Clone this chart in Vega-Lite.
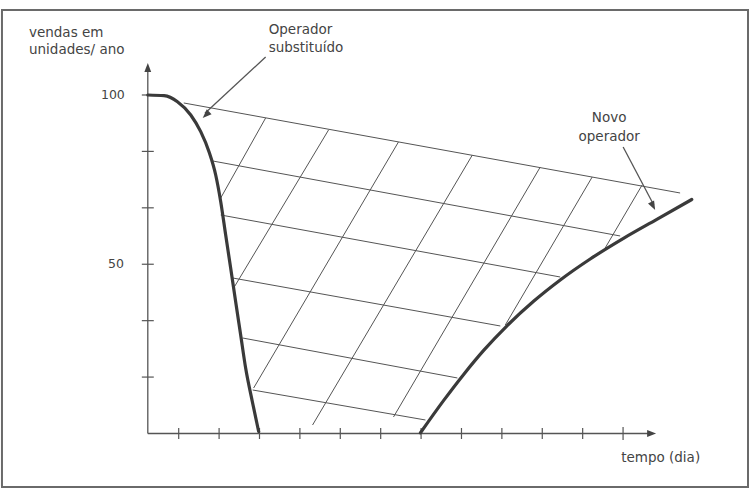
{
  "$schema": "https://vega.github.io/schema/vega-lite/v6.json",
  "width": 755,
  "height": 489,
  "autosize": {"type": "fit", "contains": "padding"},
  "padding": 0,
  "background": "white",
  "config": {"view": {"stroke": null}},
  "datasets": {
    "frame": [{"x": -3.375, "y": 125.11, "x2": 15.093, "y2": -15.81}],
    "curves": [
      {"serie": "Operador substituído", "k": 1, "x": 0.235, "y": 100},
      {"serie": "Operador substituído", "k": 2, "x": 0.638, "y": 99.79},
      {"serie": "Operador substituído", "k": 3, "x": 0.969, "y": 98.02},
      {"serie": "Operador substituído", "k": 4, "x": 1.298, "y": 94.09},
      {"serie": "Operador substituído", "k": 5, "x": 1.545, "y": 89.16},
      {"serie": "Operador substituído", "k": 6, "x": 1.75, "y": 83.25},
      {"serie": "Operador substituído", "k": 7, "x": 1.916, "y": 76.37},
      {"serie": "Operador substituído", "k": 8, "x": 2.04, "y": 68.48},
      {"serie": "Operador substituído", "k": 9, "x": 2.163, "y": 58.64},
      {"serie": "Operador substituído", "k": 10, "x": 2.287, "y": 48.8},
      {"serie": "Operador substituído", "k": 11, "x": 2.41, "y": 38.94},
      {"serie": "Operador substituído", "k": 12, "x": 2.534, "y": 29.1},
      {"serie": "Operador substituído", "k": 13, "x": 2.658, "y": 19.26},
      {"serie": "Operador substituído", "k": 14, "x": 2.823, "y": 9.39},
      {"serie": "Operador substituído", "k": 15, "x": 2.979, "y": 0.6},
      {"serie": "Novo operador", "k": 1, "x": 6.984, "y": 0.2},
      {"serie": "Novo operador", "k": 2, "x": 7.56, "y": 9.78},
      {"serie": "Novo operador", "k": 3, "x": 8.054, "y": 17.46},
      {"serie": "Novo operador", "k": 4, "x": 8.549, "y": 24.55},
      {"serie": "Novo operador", "k": 5, "x": 9.127, "y": 31.82},
      {"serie": "Novo operador", "k": 6, "x": 9.785, "y": 39.05},
      {"serie": "Novo operador", "k": 7, "x": 10.445, "y": 45.35},
      {"serie": "Novo operador", "k": 8, "x": 11.187, "y": 51.55},
      {"serie": "Novo operador", "k": 9, "x": 12.01, "y": 57.64},
      {"serie": "Novo operador", "k": 10, "x": 12.836, "y": 63.25},
      {"serie": "Novo operador", "k": 11, "x": 13.701, "y": 69.13}
    ],
    "grid": [
      {"id": "H1", "x": 1.125, "y": 97.64, "x2": 13.412, "y2": 71.05},
      {"id": "H2", "x": 1.842, "y": 80.5, "x2": 11.928, "y2": 58.35},
      {"id": "H3", "x": 2.04, "y": 64.55, "x2": 10.445, "y2": 46.23},
      {"id": "H4", "x": 2.336, "y": 45.94, "x2": 8.962, "y2": 31.76},
      {"id": "H5", "x": 2.583, "y": 28.21, "x2": 7.899, "y2": 16.4},
      {"id": "H6", "x": 2.831, "y": 12.85, "x2": 7.108, "y2": 3.99},
      {"id": "D1", "x": 2.04, "y": 69.57, "x2": 3.152, "y2": 93.21},
      {"id": "D2", "x": 2.361, "y": 42.98, "x2": 4.709, "y2": 89.66},
      {"id": "D3", "x": 2.855, "y": 13.44, "x2": 6.44, "y2": 86.12},
      {"id": "D4", "x": 4.314, "y": 2.51, "x2": 8.269, "y2": 82.27},
      {"id": "D5", "x": 6.317, "y": 4.87, "x2": 9.951, "y2": 78.73},
      {"id": "D6", "x": 9.085, "y": 32.05, "x2": 11.236, "y2": 75.78},
      {"id": "D7", "x": 11.557, "y": 54.8, "x2": 12.472, "y2": 73.41}
    ],
    "axes": [
      {"id": "y", "x": 0.235, "y": 0, "x2": 0.235, "y2": 107.5},
      {"id": "x", "x": 0.235, "y": 0, "x2": 12.65, "y2": 0},
      {"id": "a1", "x": 3.152, "y": 111.23, "x2": 1.65, "y2": 94.6},
      {"id": "a2", "x": 12.002, "y": 84.64, "x2": 12.76, "y2": 67.5}
    ],
    "ticks": [
      {"x": 0.087, "y": 16.667, "x2": 0.383, "y2": 16.667},
      {"x": 0.087, "y": 33.333, "x2": 0.383, "y2": 33.333},
      {"x": 0.087, "y": 50, "x2": 0.383, "y2": 50},
      {"x": 0.087, "y": 66.667, "x2": 0.383, "y2": 66.667},
      {"x": 0.087, "y": 83.333, "x2": 0.383, "y2": 83.333},
      {"x": 0.087, "y": 100, "x2": 0.235, "y2": 100},
      {"x": 1, "y": 1.62, "x2": 1, "y2": -1.62},
      {"x": 2, "y": 1.62, "x2": 2, "y2": -1.62},
      {"x": 3, "y": 1.62, "x2": 3, "y2": -1.62},
      {"x": 4, "y": 1.62, "x2": 4, "y2": -1.62},
      {"x": 5, "y": 1.62, "x2": 5, "y2": -1.62},
      {"x": 6, "y": 1.62, "x2": 6, "y2": -1.62},
      {"x": 7, "y": 1.62, "x2": 7, "y2": -1.62},
      {"x": 8, "y": 1.62, "x2": 8, "y2": -1.62},
      {"x": 9, "y": 1.62, "x2": 9, "y2": -1.62},
      {"x": 10, "y": 1.62, "x2": 10, "y2": -1.62},
      {"x": 11, "y": 1.62, "x2": 11, "y2": -1.62},
      {"x": 12, "y": 1.9, "x2": 12, "y2": -1.9}
    ],
    "heads": [
      {"name": "yaxis", "x": 0.235, "y": 109.45},
      {"name": "xaxis", "x": 12.818, "y": 0},
      {"name": "op", "x": 1.594, "y": 93.21},
      {"name": "novo", "x": 12.794, "y": 66.03}
    ],
    "labels": [
      {"t": "vendas em", "pos": "left", "x": -2.707, "y": 118.32},
      {"t": "unidades/ ano", "pos": "left", "x": -2.707, "y": 113.29},
      {"t": "Operador", "pos": "left", "x": 3.226, "y": 119.2},
      {"t": "substituído", "pos": "left", "x": 3.226, "y": 113.88},
      {"t": "tempo (dia)", "pos": "left", "x": 11.953, "y": -7.24},
      {"t": "100", "pos": "right", "x": -0.334, "y": 100},
      {"t": "50", "pos": "right", "x": -0.358, "y": 50},
      {"t": "Novo", "pos": "center", "x": 11.656, "y": 93.21},
      {"t": "operador", "pos": "center", "x": 11.656, "y": 87.59}
    ]
  },
  "encoding": {
    "x": {"field": "x", "type": "quantitative", "scale": {"domain": [-3.399, 15.266], "nice": false, "zero": false}, "axis": null},
    "y": {"field": "y", "type": "quantitative", "scale": {"domain": [-16.396, 128.06], "nice": false, "zero": false}, "axis": null}
  },
  "layer": [
    {
      "data": {"name": "frame"},
      "mark": {"type": "rect", "fill": null, "stroke": "#6a6a6a", "strokeWidth": 2},
      "encoding": {"x2": {"field": "x2"}, "y2": {"field": "y2"}}
    },
    {
      "data": {"name": "grid"},
      "mark": {"type": "rule", "stroke": "#555555", "strokeWidth": 1},
      "encoding": {"x2": {"field": "x2"}, "y2": {"field": "y2"}}
    },
    {
      "data": {"name": "axes"},
      "mark": {"type": "rule", "stroke": "#555555", "strokeWidth": 1.3},
      "encoding": {"x2": {"field": "x2"}, "y2": {"field": "y2"}}
    },
    {
      "data": {"name": "ticks"},
      "mark": {"type": "rule", "stroke": "#555555", "strokeWidth": 1.2},
      "encoding": {"x2": {"field": "x2"}, "y2": {"field": "y2"}}
    },
    {
      "data": {"name": "curves"},
      "mark": {"type": "line", "stroke": "#3a3a3a", "strokeWidth": 3.2, "interpolate": "monotone", "strokeCap": "round"},
      "encoding": {"detail": {"field": "serie"}, "order": {"field": "k", "type": "quantitative"}}
    },
    {
      "data": {"name": "heads"},
      "transform": [{"filter": "datum.name === 'yaxis'"}],
      "mark": {"type": "point", "shape": "M0,0L0.38,1L-0.38,1Z", "size": 324, "filled": true, "fill": "#444444", "strokeWidth": 0, "opacity": 1, "angle": 0}
    },
    {
      "data": {"name": "heads"},
      "transform": [{"filter": "datum.name === 'xaxis'"}],
      "mark": {"type": "point", "shape": "M0,0L0.38,1L-0.38,1Z", "size": 324, "filled": true, "fill": "#444444", "strokeWidth": 0, "opacity": 1, "angle": 90}
    },
    {
      "data": {"name": "heads"},
      "transform": [{"filter": "datum.name === 'op'"}],
      "mark": {"type": "point", "shape": "M0,0L0.38,1L-0.38,1Z", "size": 324, "filled": true, "fill": "#444444", "strokeWidth": 0, "opacity": 1, "angle": 226}
    },
    {
      "data": {"name": "heads"},
      "transform": [{"filter": "datum.name === 'novo'"}],
      "mark": {"type": "point", "shape": "M0,0L0.38,1L-0.38,1Z", "size": 324, "filled": true, "fill": "#444444", "strokeWidth": 0, "opacity": 1, "angle": 153}
    },
    {
      "data": {"name": "labels"},
      "transform": [{"filter": "datum.pos === 'left'"}],
      "mark": {"type": "text", "align": "left", "baseline": "middle", "font": "DejaVu Sans", "fontSize": 13.5, "fill": "#444444"},
      "encoding": {"text": {"field": "t"}}
    },
    {
      "data": {"name": "labels"},
      "transform": [{"filter": "datum.pos === 'right'"}],
      "mark": {"type": "text", "align": "right", "baseline": "middle", "font": "DejaVu Sans", "fontSize": 12.5, "fill": "#444444"},
      "encoding": {"text": {"field": "t"}}
    },
    {
      "data": {"name": "labels"},
      "transform": [{"filter": "datum.pos === 'center'"}],
      "mark": {"type": "text", "align": "center", "baseline": "middle", "font": "DejaVu Sans", "fontSize": 13.5, "fill": "#444444"},
      "encoding": {"text": {"field": "t"}}
    }
  ]
}
